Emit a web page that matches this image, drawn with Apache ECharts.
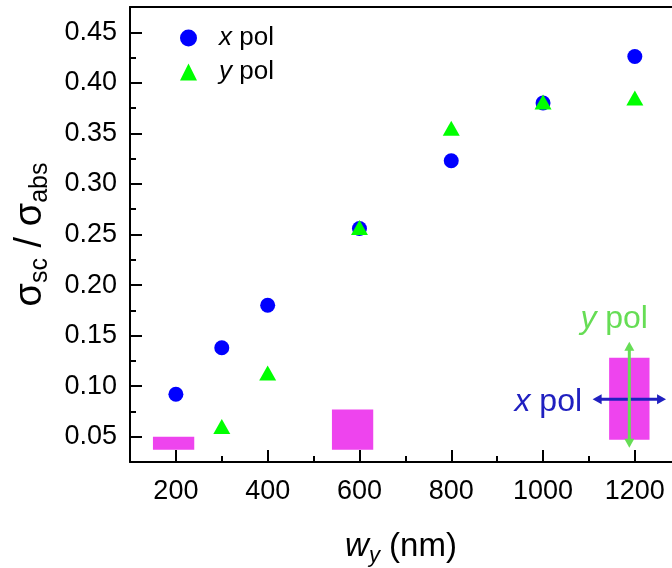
<!DOCTYPE html>
<html>
<head>
<meta charset="utf-8">
<script src="https://cdn.jsdelivr.net/npm/echarts@6/dist/echarts.min.js"></script>
<style>html,body{margin:0;padding:0;background:#fff}#c{width:672px;height:568px}</style>
</head>
<body>
<div id="c"></div>
<script>
// ---- data ----
var xPolX = [200, 300, 400, 600, 800, 1000, 1200];
var xPolY = [0.092, 0.138, 0.180, 0.256, 0.323, 0.380, 0.426];
var yPolX = [300, 400, 600, 800, 1000, 1200];
var yPolY = [0.060, 0.113, 0.257, 0.355, 0.381, 0.385];
var xMajorTicks = [200, 400, 600, 800, 1000, 1200];
var xMinorTicks = [300, 500, 700, 900, 1100];
var yMajorTicks = [0.05, 0.10, 0.15, 0.20, 0.25, 0.30, 0.35, 0.40, 0.45];
var yMinorTicks = [0.075, 0.125, 0.175, 0.225, 0.275, 0.325, 0.375, 0.425];
// schematic rectangles: [xStart, xEnd, yBottom, yTop]
var rectX0 = [150, 540, 1144];
var rectX1 = [240, 630, 1232];
var rectY0 = [0.037, 0.037, 0.047];
var rectY1 = [0.050, 0.077, 0.128];
// double-headed arrows: [xStart, yStart, xEnd, yEnd]
var arrowXPol = [1108, 0.087, 1268, 0.087];
var arrowYPol = [1188, 0.144, 1188, 0.039];
// annotation labels
var annoNames = ['x pol', 'y pol'];
var annoPos = [[1085, 0.084], [1155, 0.166]];

var FONT = 'Liberation Sans, Arial, sans-serif';
var BLUE = '#0000ff', GREEN = '#00ff00', PINK = '#ee44ee';
var ARROW_BLUE = '#2020c0', ARROW_GREEN = '#66dd55';

function zip(a, b) { return a.map(function (v, i) { return [v, b[i]]; }); }
var rectData = rectX0.map(function (v, i) { return [v, rectX1[i], rectY0[i], rectY1[i]]; });

function arrowGroup(api, a, color) {
  var p0 = api.coord([a[0], a[1]]);
  var p1 = api.coord([a[2], a[3]]);
  var dx = p1[0] - p0[0], dy = p1[1] - p0[1];
  var len = Math.sqrt(dx * dx + dy * dy);
  var ux = dx / len, uy = dy / len, nx = -uy, ny = ux;
  var hl = 9, hw = 5;
  function head(tip, dir) {
    var bx = tip[0] - dir * ux * hl, by = tip[1] - dir * uy * hl;
    return { type: 'polygon', shape: { points: [tip, [bx + nx * hw, by + ny * hw], [bx - nx * hw, by - ny * hw]] }, style: { fill: color } };
  }
  return [
    { type: 'line', shape: { x1: p0[0] + ux * 4, y1: p0[1] + uy * 4, x2: p1[0] - ux * 4, y2: p1[1] - uy * 4 }, style: { stroke: color, lineWidth: 3 } },
    head(p0, -1),
    head(p1, 1)
  ];
}

var chart = echarts.init(document.getElementById('c'));
chart.setOption({
  animation: false,
  backgroundColor: '#fff',
  textStyle: { fontFamily: FONT },
  grid: { left: 130, top: 7, right: 0, bottom: 106, containLabel: false, outerBoundsMode: 'none' },
  legend: {
    left: 175, top: 20, orient: 'vertical', itemWidth: 17, itemHeight: 17, itemGap: 8,
    data: [{ name: 'x pol', icon: 'circle' }, { name: 'y pol', icon: 'triangle' }],
    formatter: function (n) { return n === 'x pol' ? '{i|x} pol' : '{i|y} pol'; },
    textStyle: { fontSize: 26, color: '#000', fontFamily: FONT, padding: [0, 0, 0, 17],
      rich: { i: { fontStyle: 'italic', fontSize: 26, fontFamily: FONT, color: '#000' } } }
  },
  xAxis: [
    { type: 'value', min: 100, max: 1281, position: 'bottom',
      axisLine: { onZero: false, lineStyle: { color: '#000', width: 2 } },
      axisTick: { inside: true, length: 12, lineStyle: { width: 2, color: '#000' }, customValues: xMajorTicks },
      axisLabel: { customValues: xMajorTicks, fontSize: 27, color: '#000', margin: 16, fontFamily: FONT,
        formatter: function (v) { return String(v); } },
      splitLine: { show: false },
      name: '{i|w}{s|y}{n| (nm)}', nameLocation: 'middle', nameGap: 65,
      nameTextStyle: { rich: {
        i: { fontSize: 33, fontStyle: 'italic', fontFamily: FONT, color: '#000', lineHeight: 40 },
        s: { fontSize: 22, fontStyle: 'italic', fontFamily: FONT, color: '#000', verticalAlign: 'bottom', lineHeight: 22 },
        n: { fontSize: 33, fontFamily: FONT, color: '#000', lineHeight: 40 } } } },
    { type: 'value', min: 100, max: 1281, position: 'bottom',
      axisLine: { show: false, onZero: false },
      axisTick: { inside: true, length: 6, lineStyle: { width: 2, color: '#000' }, customValues: xMinorTicks },
      axisLabel: { show: false }, splitLine: { show: false } },
    { type: 'value', min: 100, max: 1281, position: 'top',
      axisLine: { onZero: false, lineStyle: { color: '#000', width: 2 } },
      axisTick: { show: false }, axisLabel: { show: false }, splitLine: { show: false } }
  ],
  yAxis: [
    { type: 'value', min: 0.025, max: 0.475, position: 'left',
      axisLine: { onZero: false, lineStyle: { color: '#000', width: 2 } },
      axisTick: { inside: true, length: 12, lineStyle: { width: 2, color: '#000' }, customValues: yMajorTicks },
      axisLabel: { customValues: yMajorTicks, fontSize: 27, color: '#000', margin: 13, fontFamily: FONT,
        formatter: function (v) { return v.toFixed(2); } },
      splitLine: { show: false },
      name: '{g|σ}{s|sc}{g| / σ}{s|abs}', nameLocation: 'middle', nameGap: 77,
      nameTextStyle: { rich: {
        g: { fontSize: 38, fontFamily: FONT, color: '#000', lineHeight: 44 },
        s: { fontSize: 25, fontFamily: FONT, color: '#000', verticalAlign: 'bottom', lineHeight: 24 } } } },
    { type: 'value', min: 0.025, max: 0.475, position: 'left',
      axisLine: { show: false, onZero: false },
      axisTick: { inside: true, length: 6, lineStyle: { width: 2, color: '#000' }, customValues: yMinorTicks },
      axisLabel: { show: false }, splitLine: { show: false } }
  ],
  series: [
    { type: 'custom', name: 'rects', xAxisIndex: 0, yAxisIndex: 0, silent: true, clip: false, z: 1,
      encode: { x: [0, 1], y: [2, 3] },
      data: rectData,
      renderItem: function (params, api) {
        var a = api.coord([api.value(0), api.value(3)]);
        var b = api.coord([api.value(1), api.value(2)]);
        return { type: 'rect', shape: { x: a[0], y: a[1], width: b[0] - a[0], height: b[1] - a[1] }, style: { fill: PINK } };
      } },
    { type: 'custom', name: 'arrows', xAxisIndex: 0, yAxisIndex: 0, silent: true, clip: false, z: 2,
      encode: { x: 0, y: 1 },
      data: [[arrowXPol[0], arrowXPol[1]]],
      renderItem: function (params, api) {
        var children = arrowGroup(api, arrowXPol, ARROW_BLUE).concat(arrowGroup(api, arrowYPol, ARROW_GREEN));
        var pX = api.coord(annoPos[0]);
        var pY = api.coord(annoPos[1]);
        children.push({ type: 'text', x: pX[0], y: pX[1], style: {
          text: '{i|' + annoNames[0].charAt(0) + '}' + annoNames[0].slice(1), align: 'right', verticalAlign: 'middle',
          fill: ARROW_BLUE, fontSize: 32, fontFamily: FONT,
          rich: { i: { fontStyle: 'italic', fontSize: 32, fontFamily: FONT, fill: ARROW_BLUE } } } });
        children.push({ type: 'text', x: pY[0], y: pY[1], style: {
          text: '{i|' + annoNames[1].charAt(0) + '}' + annoNames[1].slice(1), align: 'center', verticalAlign: 'middle',
          fill: ARROW_GREEN, fontSize: 32, fontFamily: FONT,
          rich: { i: { fontStyle: 'italic', fontSize: 32, fontFamily: FONT, fill: ARROW_GREEN } } } });
        return { type: 'group', children: children };
      } },
    { type: 'scatter', name: 'x pol', xAxisIndex: 0, yAxisIndex: 0, symbol: 'circle', symbolSize: 15, z: 3,
      itemStyle: { color: BLUE, opacity: 1 }, data: zip(xPolX, xPolY) },
    { type: 'scatter', name: 'y pol', xAxisIndex: 0, yAxisIndex: 0, symbol: 'triangle', symbolSize: [17, 15], z: 4,
      itemStyle: { color: GREEN, opacity: 1 }, data: zip(yPolX, yPolY) }
  ]
});
</script>
</body>
</html>
